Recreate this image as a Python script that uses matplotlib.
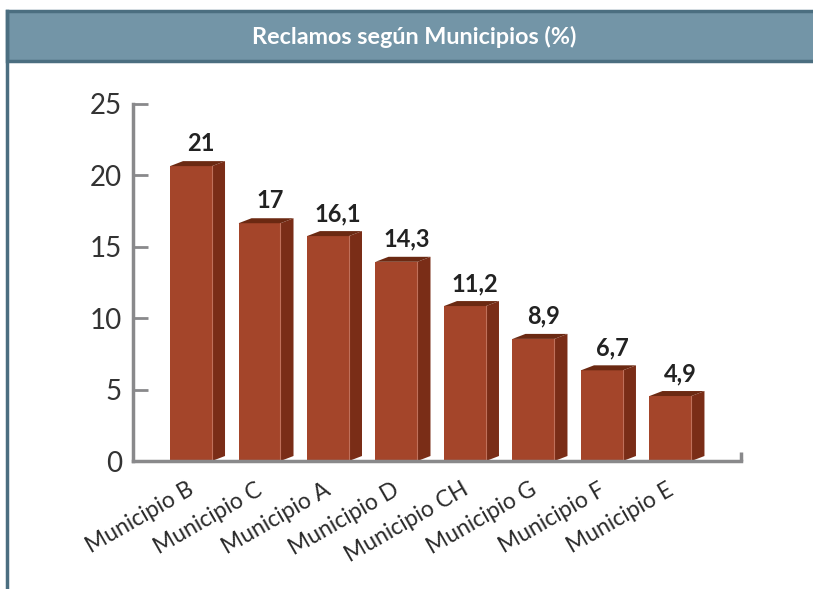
import matplotlib
matplotlib.use("Agg")
import matplotlib.pyplot as plt
from matplotlib.patches import Polygon, Rectangle
from matplotlib.lines import Line2D
from matplotlib.transforms import ScaledTranslation

categories = ["Municipio B", "Municipio C", "Municipio A", "Municipio D",
              "Municipio CH", "Municipio G", "Municipio F", "Municipio E"]
values = [21, 17, 16.1, 14.3, 11.2, 8.9, 6.7, 4.9]
value_labels = ["21", "17", "16,1", "14,3", "11,2", "8,9", "6,7", "4,9"]
yticks = [0, 5, 10, 15, 20, 25]
title = "Reclamos según Municipios (%)"

FONT = ["Lato", "DejaVu Sans"]

W, H = 813, 589
fig = plt.figure(figsize=(W / 100, H / 100), dpi=100)
fig.patch.set_facecolor("white")

# title band
band = Rectangle((7 / W, 1 - 61 / H), 1 - 7 / W + 0.01, 50 / H, transform=fig.transFigure,
                 facecolor="#7395a7", edgecolor="#4b6e80", linewidth=2.5)
fig.patches.append(band)
fig.lines.append(Line2D([7 / W, 7 / W], [0, 1 - 11 / H], transform=fig.transFigure,
                        color="#4b6e80", linewidth=2.5))
fig.text(0.51, 1 - 37 / H, title, ha="center", va="center", color="white",
         fontsize=16.8, fontweight="bold", family=FONT)

ax = fig.add_axes([133 / W, 1 - 461 / H, (741 - 133) / W, (461 - 104) / H])
ax.set_xlim(-0.847, 8.03)
ax.set_ylim(0, 25)

bw = 0.613
dx, dy = 0.19, 0.35
front_c = "#a4452a"
side_c = "#7a2d17"
top_c = "#6b2912"
for i, v in enumerate(values):
    x0 = i - bw / 2
    x1 = i + bw / 2
    ftop = v - dy
    ax.add_patch(Polygon([(x0, 0), (x1, 0), (x1, ftop), (x0, ftop)], closed=True,
                         facecolor=front_c, edgecolor="none", zorder=3))
    ax.add_patch(Polygon([(x1, 0), (x1 + dx, dy), (x1 + dx, v), (x1, ftop)], closed=True,
                         facecolor=side_c, edgecolor="none", zorder=3))
    ax.add_patch(Polygon([(x0, ftop), (x1, ftop), (x1 + dx, v), (x0 + dx, v)], closed=True,
                         facecolor=top_c, edgecolor="none", zorder=3))
    ax.plot([x1, x1], [0, ftop], color="#c0705a", linewidth=0.8, zorder=4)
    ax.text(i + 0.15, v + 0.7, value_labels[i], ha="center", va="baseline",
            fontsize=17, fontweight="bold", color="#222222", family=FONT)

for s in ["top", "right"]:
    ax.spines[s].set_visible(False)
for s in ["left", "bottom"]:
    ax.spines[s].set_color("#89898b")
    ax.spines[s].set_linewidth(2.5)
ax.spines["bottom"].set_zorder(5)
ax.plot([1, 1], [0, 0.025], transform=ax.transAxes, color="#89898b", linewidth=2.5,
        clip_on=False, solid_capstyle="butt")

ax.set_yticks(yticks)
ax.set_yticklabels([str(t) for t in yticks], family=FONT, fontsize=20,
                   fontweight="normal", color="#333333")
ax.tick_params(axis="y", direction="in", length=11, width=2, color="#89898b", pad=8)
ax.set_xticks(range(len(categories)))
ax.set_xticklabels(categories, rotation=30, ha="right", rotation_mode="anchor",
                   family=FONT, fontsize=16.5, fontweight="normal", color="#2a2a2a")
ax.tick_params(axis="x", length=0, pad=13)
shift = ScaledTranslation(-4 / 100, 0, fig.dpi_scale_trans)
for lbl in ax.get_xticklabels():
    lbl.set_transform(lbl.get_transform() + shift)

fig.savefig("out.png", dpi=100)
